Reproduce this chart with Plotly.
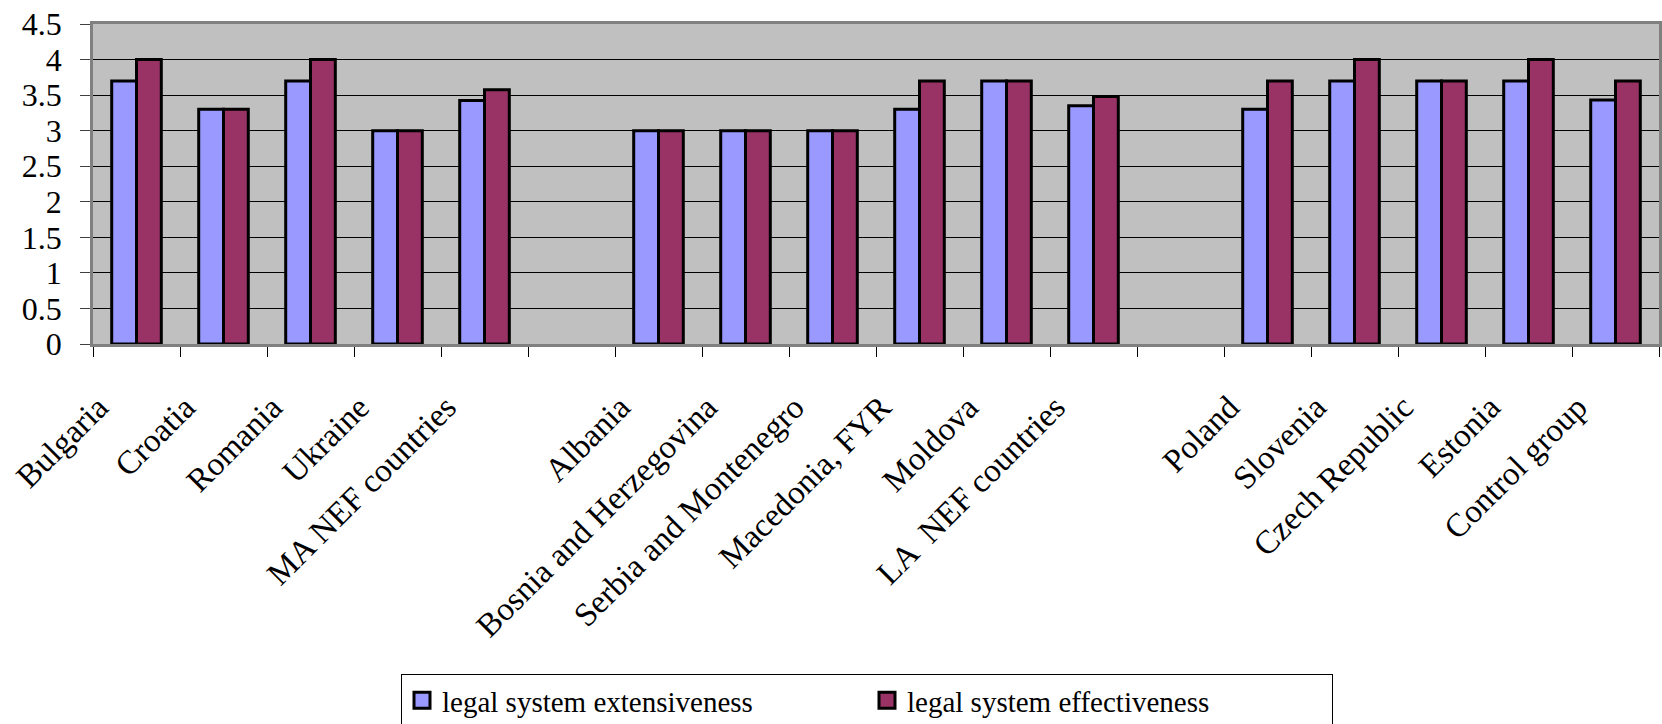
import plotly.graph_objects as go

# Country groups, with blank slots separating the three groups
categories = [
    "Bulgaria", "Croatia", "Romania", "Ukraine", "MA NEF countries", " ",
    "Albania", "Bosnia and Herzegovina", "Serbia and Montenegro", "Macedonia, FYR",
    "Moldova", "LA  NEF countries", "  ",
    "Poland", "Slovenia", "Czech Republic", "Estonia", "Control group",
]

extensiveness = [3.7, 3.3, 3.7, 3.0, 3.425, None,
                 3.0, 3.0, 3.0, 3.3, 3.7, 3.35, None,
                 3.3, 3.7, 3.7, 3.7, 3.43]

effectiveness = [4.0, 3.3, 4.0, 3.0, 3.575, None,
                 3.0, 3.0, 3.0, 3.7, 3.7, 3.48, None,
                 3.7, 4.0, 3.7, 4.0, 3.7]

series_names = ["legal system extensiveness", "legal system effectiveness"]
series_colors = ["#9999FF", "#993366"]

y_ticks = [0, 0.5, 1, 1.5, 2, 2.5, 3, 3.5, 4, 4.5]
y_tick_labels = ["0", "0.5", "1", "1.5", "2", "2.5", "3", "3.5", "4", "4.5"]

FONT = "Liberation Serif"

W, H = 1662, 724
M_L, M_R, M_T, M_B = 93, 3, 24, 380

fig = go.Figure()
for values, name, color in zip([extensiveness, effectiveness], series_names, series_colors):
    fig.add_trace(go.Bar(
        x=categories, y=values, name=name,
        legendgroup=name, showlegend=False,
        marker=dict(color=color, line=dict(color="black", width=3)),
    ))

# Legend entries with large square swatches
for name, color in zip(series_names, series_colors):
    fig.add_trace(go.Scatter(
        x=[None], y=[None], mode="markers", name=name,
        legendgroup=name, showlegend=True,
        marker=dict(symbol="square", size=16, color=color,
                    line=dict(color="black", width=3)),
    ))

plot_h = H - M_T - M_B
plot_w = W - M_L - M_R
legend_top_px = 674
legend_left_px = 401

fig.update_layout(
    width=W, height=H,
    margin=dict(l=M_L, r=M_R, t=M_T, b=M_B, pad=0, autoexpand=False),
    paper_bgcolor="white",
    plot_bgcolor="#C0C0C0",
    barmode="group",
    bargap=0.43,
    bargroupgap=0,
    font=dict(family=FONT, color="black"),
    showlegend=True,
    legend=dict(
        orientation="h",
        x=(legend_left_px - M_L) / plot_w, xanchor="left",
        y=-(legend_top_px - (H - M_B)) / plot_h, yanchor="top",
        bgcolor="white",
        bordercolor="black", borderwidth=1,
        font=dict(family=FONT, size=29, color="black"),
        itemwidth=30,
        itemsizing="trace",
        entrywidth=420,
        traceorder="normal",
    ),
)

fig.update_xaxes(
    type="category",
    categoryorder="array", categoryarray=categories,
    tickson="boundaries",
    ticks="outside", ticklen=10, tickwidth=1.2, tickcolor="black",
    tickangle=-45,
    tickfont=dict(family=FONT, size=33, color="black"),
    ticklabelshift=-38, ticklabelstandoff=28,
    showline=True, linecolor="#808080", linewidth=2.5, mirror=True,
    showgrid=False,
    automargin=False,
    fixedrange=True,
)

fig.update_yaxes(
    range=[0, 4.5],
    tickvals=y_ticks, ticktext=y_tick_labels,
    ticks="outside", ticklen=10, tickwidth=1.2, tickcolor="#404040",
    tickfont=dict(family=FONT, size=32, color="black"),
    ticklabelstandoff=12,
    showline=True, linecolor="#808080", linewidth=2.5, mirror=True,
    showgrid=True, gridcolor="black", gridwidth=1,
    zeroline=False,
    automargin=False,
    fixedrange=True,
)

fig.write_html("out.html")
